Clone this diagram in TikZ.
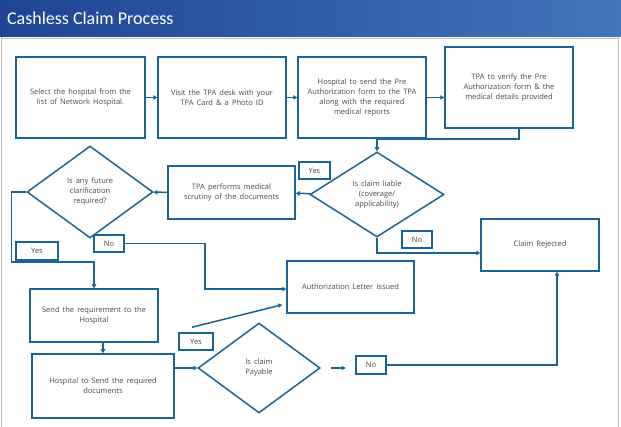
\documentclass[tikz,border=0pt]{standalone}
\usepackage{fontspec}
\setmainfont{Open Sans}[WordSpace={1.6,1,1}]
\newfontfamily\titlefont{Carlito}
\usetikzlibrary{arrows.meta, positioning, shapes.geometric, calc}
\definecolor{cline}{HTML}{1B6497}
\definecolor{ctext}{HTML}{4A4A4A}
\definecolor{ctitleA}{HTML}{1F4494}
\definecolor{ctitleB}{HTML}{4275BA}
\definecolor{cframe}{HTML}{BDBDBD}
\tikzset{
  every picture/.style={line width=1.5pt},
  box/.style={draw=cline, fill=white, align=center, inner sep=2pt, font=\fontsize{7.5}{10}\selectfont, text=ctext},
  decide/.style={box, diamond, inner sep=0pt},
  tag/.style={box, minimum width=#1, minimum height=17pt, inner sep=0pt},
  arrow/.style={-{Triangle[length=4pt,width=4.5pt]}, draw=cline},
}

\begin{document}
\begin{tikzpicture}[x=1pt, y=-1pt]
  \useasboundingbox (0,0) rectangle (621,427);
  \fill[white] (0,0) rectangle (621,427);
  \shade[left color=ctitleA, right color=ctitleB] (0,0) rectangle (621,37);
  \draw[cframe, line width=1pt] (1.5,37) -- (1.5,427) (618.5,37) -- (618.5,427) (1.5,39) -- (618.5,39);
  \node[anchor=west, text=white, font=\titlefont\fontsize{18}{18}\selectfont] (title) at (3,18) {Cashless Claim Process};
  % top row
  \node[box, minimum width=129pt, minimum height=81pt] (select) at (80.5,97.5) {Select the hospital from the\\list of Network Hospital.};
  \node[box, minimum width=128pt, minimum height=81pt] (visit) at (222,97.5) {Visit the TPA desk with your\\TPA Card \& a Photo ID};
  \node[box, minimum width=128pt, minimum height=81pt] (preauth) at (362,97.5) {Hospital to send the Pre\\Authorization form to the TPA\\along with the required\\medical reports};
  \node[box, minimum width=128pt, minimum height=81pt] (verify) at (509,87.5) {TPA to verify the Pre\\Authorization form \& the\\medical details provided};
  % middle row
  \node[decide, minimum width=134pt, minimum height=85pt] (liable) at (377,194.5) {Is claim liable\\(coverage/\\applicability)};
  \node[box, minimum width=127pt, minimum height=53pt] (scrutiny) at (231.5,192.5) {TPA performs medical\\scrutiny of the documents};
  \node[decide, minimum width=126pt, minimum height=92pt] (clarify) at (90,192) {Is any future\\clarification\\required?};
  \node[box, minimum width=118pt, minimum height=52pt] (rejected) at (540,245) {Claim Rejected};
  % bottom rows
  \node[box, minimum width=127pt, minimum height=52pt] (auth) at (350.5,287) {Authorization Letter Issued};
  \node[box, minimum width=128pt, minimum height=53pt] (send) at (94,315.5) {Send the requirement to the\\Hospital};
  \node[box, minimum width=142pt, minimum height=64pt] (docs) at (103,386) {Hospital to Send the required\\documents};
  \node[decide, minimum width=122pt, minimum height=90pt] (payable) at (259,368) {Is claim\\Payable};
  % connectors
  \draw[arrow] (select) -- (visit);
  \draw[arrow] (visit) -- (preauth);
  \draw[arrow] (preauth.east) -- (preauth.east -| verify.west);
  \draw[arrow] ([xshift=10pt]verify.south) |- ([yshift=12pt]liable.north) -- (liable.north);
  \draw[arrow] (liable) -- (scrutiny);
  \draw[arrow] (scrutiny) -- (clarify);
  \draw[arrow] (clarify.west) -- ++(-15,0) |- ([yshift=26pt]send.north) -- (send.north);
  \draw[arrow] (liable.south) |- ([yshift=-8pt]rejected.west);
  \draw[arrow] (docs.north |- send.south) -- (docs.north);
  \draw[arrow] (docs.east |- payable.west) -- (payable.west);
  \draw[arrow] ([xshift=10pt]payable.east) -- ++(15,0);
  % labels
  \node[tag=31pt] (yes1) at (314.5,170.5) {Yes};
  \node[tag=30pt] (no1) at (417,239.5) {No};
  \node[tag=42pt, minimum height=18pt] (yes2) at (37,251) {Yes};
  \node[tag=30pt] (no2) at (109,243.5) {No};
  \node[tag=34pt] (yes3) at (196,341.5) {Yes};
  \node[tag=30pt, minimum height=18pt] (no3) at (371,365) {No};
  \draw[arrow] (no2.east) -- ++(80,0) |- ([yshift=-2pt]auth.west);
  \draw[arrow] ([xshift=-4pt,yshift=5pt]yes3.north) -- ([xshift=-4pt,yshift=9pt]auth.south west);
  \draw[arrow] (no3.east) -| ([xshift=17pt]rejected.south);
\end{tikzpicture}
\end{document}
